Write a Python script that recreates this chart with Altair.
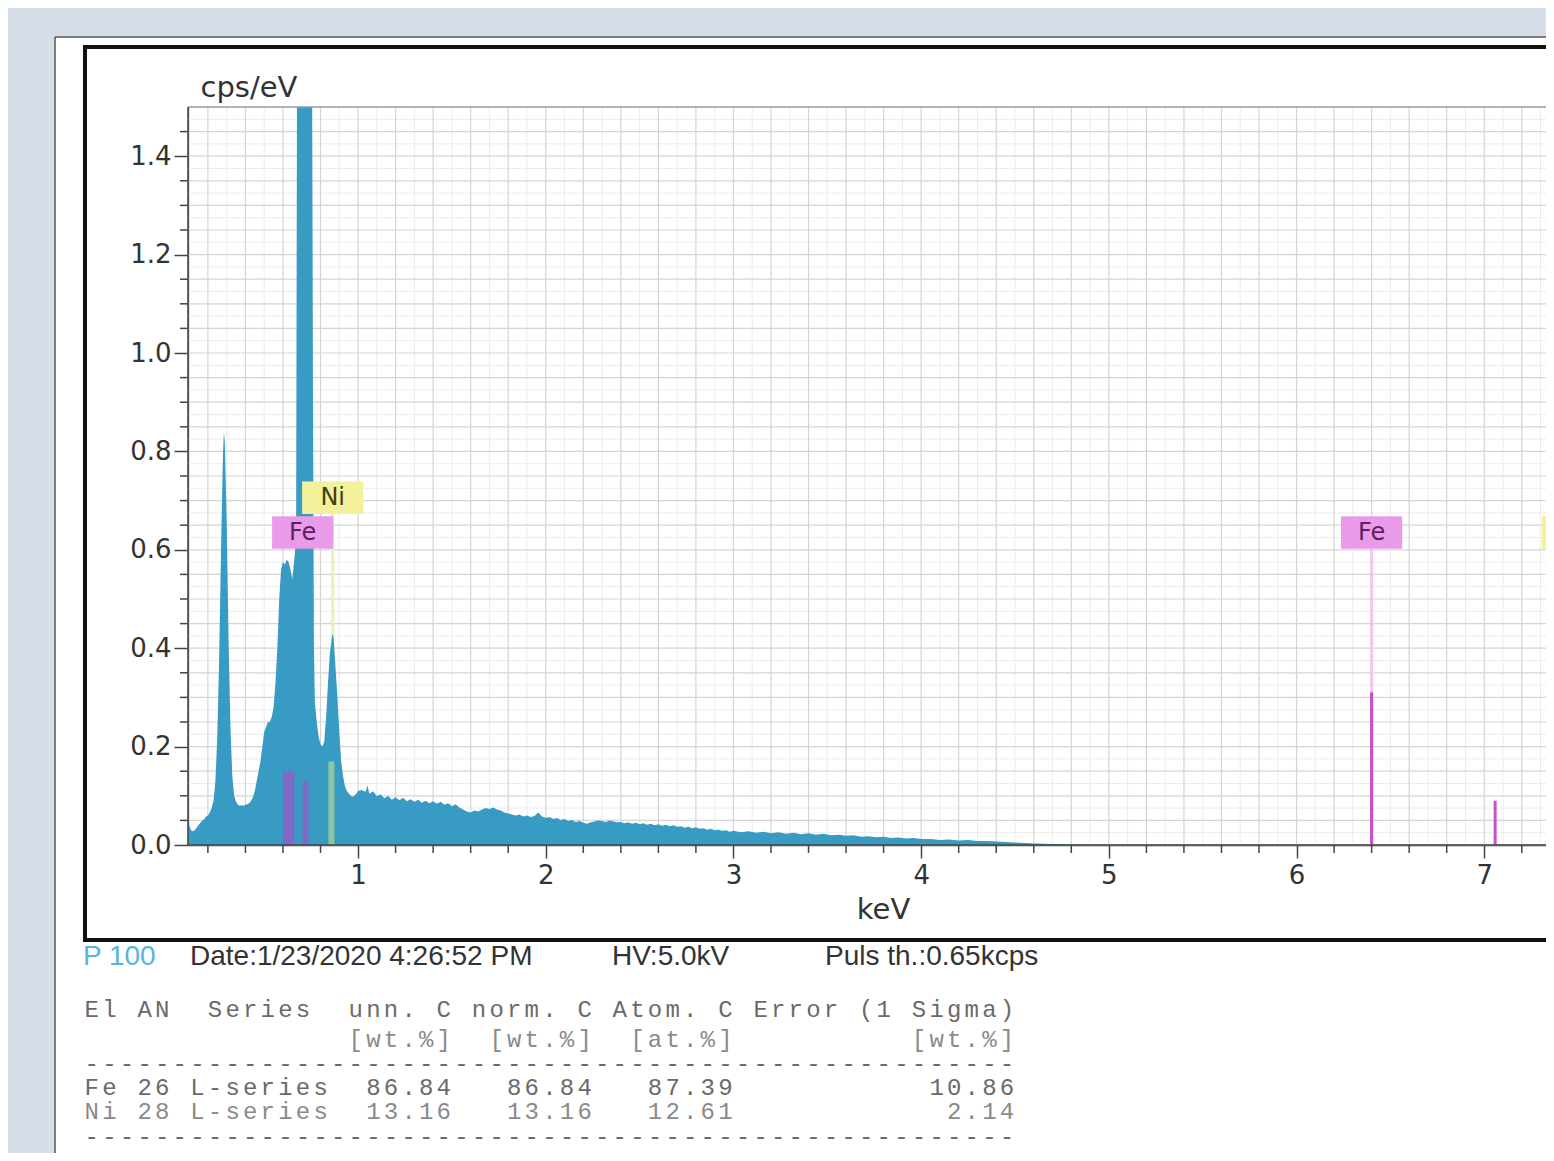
import altair as alt
import pandas as pd

# ---------------- data ----------------
spectrum_points = [
    (0.094, 0.045), (0.10, 0.040), (0.11, 0.030), (0.12, 0.028), (0.13, 0.030),
    (0.14, 0.035), (0.15, 0.040), (0.16, 0.045), (0.17, 0.050), (0.18, 0.052),
    (0.19, 0.058), (0.20, 0.060), (0.21, 0.066), (0.22, 0.075), (0.23, 0.090),
    (0.24, 0.130), (0.25, 0.220), (0.26, 0.380), (0.27, 0.600), (0.28, 0.790),
    (0.285, 0.838), (0.29, 0.820), (0.30, 0.660), (0.31, 0.420), (0.32, 0.240),
    (0.33, 0.140), (0.34, 0.100), (0.35, 0.088), (0.36, 0.082), (0.37, 0.080),
    (0.38, 0.081), (0.39, 0.080), (0.40, 0.082), (0.41, 0.083), (0.42, 0.085),
    (0.43, 0.090), (0.44, 0.097), (0.45, 0.110), (0.46, 0.130), (0.47, 0.150),
    (0.48, 0.170), (0.49, 0.200), (0.50, 0.230), (0.51, 0.240), (0.52, 0.250),
    (0.53, 0.250), (0.54, 0.260), (0.55, 0.280), (0.56, 0.330), (0.57, 0.400),
    (0.58, 0.500), (0.59, 0.560), (0.60, 0.575), (0.61, 0.570), (0.62, 0.580),
    (0.63, 0.575), (0.64, 0.560), (0.65, 0.540), (0.66, 0.580), (0.67, 0.620),
    (0.675, 1.600), (0.70, 1.600), (0.73, 1.600), (0.755, 1.600), (0.76, 0.900),
    (0.765, 0.400), (0.77, 0.290), (0.78, 0.250), (0.79, 0.220), (0.80, 0.205),
    (0.81, 0.200), (0.82, 0.210), (0.83, 0.260), (0.84, 0.330), (0.85, 0.390),
    (0.86, 0.420), (0.865, 0.430), (0.87, 0.420), (0.88, 0.360), (0.89, 0.300),
    (0.90, 0.230), (0.91, 0.170), (0.92, 0.140), (0.93, 0.120), (0.94, 0.110),
    (0.95, 0.105), (0.96, 0.100), (0.97, 0.098), (0.98, 0.100), (0.99, 0.104),
    (1.00, 0.110), (1.02, 0.112), (1.04, 0.108), (1.05, 0.121), (1.06, 0.104),
    (1.08, 0.109), (1.10, 0.099), (1.12, 0.103), (1.14, 0.095), (1.16, 0.100),
    (1.18, 0.092), (1.20, 0.097), (1.22, 0.091), (1.24, 0.096), (1.26, 0.089),
    (1.28, 0.093), (1.30, 0.088), (1.32, 0.092), (1.34, 0.086), (1.36, 0.090),
    (1.38, 0.085), (1.40, 0.089), (1.42, 0.084), (1.44, 0.088), (1.46, 0.082),
    (1.48, 0.085), (1.50, 0.079), (1.52, 0.083), (1.54, 0.076), (1.56, 0.072),
    (1.58, 0.068), (1.60, 0.066), (1.62, 0.070), (1.64, 0.068), (1.66, 0.072),
    (1.68, 0.075), (1.70, 0.073), (1.72, 0.076), (1.74, 0.072), (1.76, 0.070),
    (1.78, 0.066), (1.80, 0.064), (1.82, 0.062), (1.84, 0.060), (1.86, 0.062),
    (1.88, 0.058), (1.90, 0.060), (1.92, 0.057), (1.94, 0.059), (1.96, 0.066),
    (1.98, 0.058), (2.00, 0.055), (2.02, 0.057), (2.04, 0.053), (2.06, 0.055),
    (2.08, 0.051), (2.10, 0.053), (2.12, 0.049), (2.14, 0.051), (2.16, 0.047),
    (2.18, 0.049), (2.20, 0.045), (2.22, 0.043), (2.24, 0.046), (2.26, 0.048),
    (2.28, 0.050), (2.30, 0.049), (2.32, 0.047), (2.34, 0.050), (2.36, 0.048),
    (2.38, 0.046), (2.40, 0.047), (2.42, 0.044), (2.44, 0.046), (2.46, 0.043),
    (2.48, 0.045), (2.50, 0.042), (2.52, 0.044), (2.54, 0.041), (2.56, 0.043),
    (2.58, 0.040), (2.60, 0.042), (2.62, 0.039), (2.64, 0.041), (2.66, 0.038),
    (2.68, 0.040), (2.70, 0.037), (2.72, 0.038), (2.74, 0.035), (2.76, 0.037),
    (2.78, 0.034), (2.80, 0.036), (2.82, 0.033), (2.84, 0.034), (2.86, 0.031),
    (2.88, 0.033), (2.90, 0.030), (2.92, 0.031), (2.94, 0.029), (2.96, 0.030),
    (2.98, 0.027), (3.00, 0.029), (3.04, 0.026), (3.08, 0.028), (3.12, 0.025),
    (3.16, 0.027), (3.20, 0.024), (3.24, 0.026), (3.28, 0.023), (3.32, 0.025),
    (3.36, 0.022), (3.40, 0.024), (3.44, 0.021), (3.48, 0.023), (3.52, 0.020),
    (3.56, 0.021), (3.60, 0.019), (3.64, 0.020), (3.68, 0.017), (3.72, 0.018),
    (3.76, 0.016), (3.80, 0.017), (3.84, 0.014), (3.88, 0.015), (3.92, 0.013),
    (3.96, 0.014), (4.00, 0.012), (4.05, 0.012), (4.10, 0.010), (4.15, 0.011),
    (4.20, 0.009), (4.25, 0.010), (4.30, 0.008), (4.35, 0.008), (4.40, 0.007),
    (4.45, 0.006), (4.50, 0.005), (4.55, 0.004), (4.60, 0.003), (4.70, 0.002),
    (4.80, 0.001), (4.90, 0.000), (7.33, 0.000),
]
spectrum_kev = [p[0] for p in spectrum_points]
spectrum_cps = [p[1] for p in spectrum_points]

x_label_kev = [1, 2, 3, 4, 5, 6, 7]
x_tick_kev = [0.2, 0.4, 0.6, 0.8, 1.0, 1.2, 1.4, 1.6, 1.8, 2.0, 2.2, 2.4, 2.6, 2.8,
              3.0, 3.2, 3.4, 3.6, 3.8, 4.0, 4.2, 4.4, 4.6, 4.8, 5.0, 5.2, 5.4, 5.6,
              5.8, 6.0, 6.2, 6.4, 6.6, 6.8, 7.0, 7.2]
y_label_cps = [0.0, 0.2, 0.4, 0.6, 0.8, 1.0, 1.2, 1.4]
y_tick_cps = [0.0, 0.05, 0.1, 0.15, 0.2, 0.25, 0.3, 0.35, 0.4, 0.45, 0.5, 0.55,
              0.6, 0.65, 0.7, 0.75, 0.8, 0.85, 0.9, 0.95, 1.0, 1.05, 1.1, 1.15,
              1.2, 1.25, 1.3, 1.35, 1.4, 1.45]
x_minor_grid_kev = [0.1, 0.3, 0.5, 0.7, 0.9, 1.1, 1.3, 1.5, 1.7, 1.9, 2.1, 2.3,
                    2.5, 2.7, 2.9, 3.1, 3.3, 3.5, 3.7, 3.9, 4.1, 4.3, 4.5, 4.7,
                    4.9, 5.1, 5.3, 5.5, 5.7, 5.9, 6.1, 6.3, 6.5, 6.7, 6.9, 7.1, 7.3]
y_minor_grid_cps = [0.025, 0.075, 0.125, 0.175, 0.225, 0.275, 0.325, 0.375, 0.425,
                    0.475, 0.525, 0.575, 0.625, 0.675, 0.725, 0.775, 0.825, 0.875,
                    0.925, 0.975, 1.025, 1.075, 1.125, 1.175, 1.225, 1.275, 1.325,
                    1.375, 1.425, 1.475]

# element line markers
line_element = ["Fe", "Fe", "Fe", "Ni", "Fe", "Fe"]
line_kev = [0.615, 0.645, 0.72, 0.858, 6.40, 7.058]
line_cps = [0.15, 0.15, 0.13, 0.17, 0.31, 0.09]

# element labels
label_element = ["Fe", "Ni", "Fe", "Ni"]
label_kev = [0.705, 0.865, 6.40, 7.47]
label_cps = [0.635, 0.706, 0.635, 0.635]

footer_texts = ["P 100", "Date:1/23/2020 4:26:52 PM", "HV:5.0kV", "Puls th.:0.65kcps"]
table_lines = [
    "El AN  Series  unn. C norm. C Atom. C Error (1 Sigma)",
    "               [wt.%]  [wt.%]  [at.%]          [wt.%]",
    "-----------------------------------------------------",
    "Fe 26 L-series  86.84   86.84   87.39           10.86",
    "Ni 28 L-series  13.16   13.16   12.61            2.14",
    "-----------------------------------------------------",
]

# ---------------- layout / style ----------------
W, H = 1358, 738
X_MAX = 7.329
AREA = "#379bc4"
AXIS_COL = "#444444"
box_fill = {"Fe": "#e99be9", "Ni": "#f3f19b"}
box_text = {"Fe": "#5b2162", "Ni": "#3f3f10"}
marker_pale = {"Fe": "#efc6f0", "Ni": "#eef0b4"}
line_col = {"Fe": "#c43cc8", "Ni": "#e8f07a"}
footer_x_px = [-105, 2, 424, 637]
footer_colors = ["#58b3de", "#333333", "#333333", "#333333"]
footer_y_px = 850
table_left_px = -105
char_w = 17.6
table_y_px = [903, 933, 957, 981, 1005, 1030]
table_colors = ["#6a6a6a", "#8a8a8a", "#6a6a6a", "#6a6a6a", "#8a8a8a", "#6a6a6a"]

xs = alt.Scale(domain=[0.094, X_MAX], nice=False, zero=False)
ys = alt.Scale(domain=[0.0, 1.5], nice=False, zero=False)

spec_df = pd.DataFrame({"kev": spectrum_kev, "cps": spectrum_cps})
line_df = pd.DataFrame({"el": line_element, "kev": line_kev, "cps": line_cps})
line_df["col"] = line_df["el"].map(line_col)
lab_df = pd.DataFrame({"el": label_element, "kev": label_kev, "cps": label_cps})
lab_df["box"] = lab_df["el"].map(box_fill)
lab_df["tcol"] = lab_df["el"].map(box_text)
lab_df["pale"] = lab_df["el"].map(marker_pale)
dummy = pd.DataFrame({"d": [0]})

x_axis = alt.Axis(
    orient="bottom", values=x_label_kev, format="d",
    tickSize=13, tickColor=AXIS_COL, tickWidth=1.5,
    domainColor=AXIS_COL, domainWidth=1.5,
    labelFont="DejaVu Sans", labelFontSize=26, labelColor="#333333", labelPadding=4,
    labelOverlap=False, labelFlush=False, grid=False,
    title="keV", titleFont="DejaVu Sans", titleFontSize=29, titleFontWeight="normal",
    titleColor="#333333", titleX=695, titlePadding=7,
)
y_axis = alt.Axis(
    orient="left", values=y_label_cps, format=".1f",
    tickSize=14, tickColor=AXIS_COL, tickWidth=1.5,
    domainColor=AXIS_COL, domainWidth=1.5,
    labelFont="DejaVu Sans", labelFontSize=26, labelColor="#333333", labelPadding=3,
    labelOverlap=False, labelFlush=False, grid=False,
    title="cps/eV", titleFont="DejaVu Sans", titleFontSize=29, titleFontWeight="normal",
    titleColor="#333333", titleAngle=0, titleAlign="left", titleBaseline="bottom",
    titleX=12, titleY=-5,
)

# grid (under the spectrum)
xgrid_minor = alt.Chart(pd.DataFrame({"kev": x_minor_grid_kev})).mark_rule(
    color="#ececec", strokeWidth=1).encode(x=alt.X("kev:Q", scale=xs))
ygrid_minor = alt.Chart(pd.DataFrame({"cps": y_minor_grid_cps})).mark_rule(
    color="#ececec", strokeWidth=1).encode(y=alt.Y("cps:Q", scale=ys))
xgrid = alt.Chart(pd.DataFrame({"kev": x_tick_kev})).mark_rule(
    color="#d4d4d4", strokeWidth=1.2).encode(x=alt.X("kev:Q", scale=xs))
ygrid = alt.Chart(pd.DataFrame({"cps": y_tick_cps})).mark_rule(
    color="#d4d4d4", strokeWidth=1.2).encode(y=alt.Y("cps:Q", scale=ys))

# pale marker lines from labels down to the baseline (behind the spectrum)
marker = alt.Chart(lab_df).transform_calculate(
    ytop="datum.cps - 0.033", y0="0"
).mark_rule(strokeWidth=3).encode(
    x=alt.X("kev:Q", scale=xs),
    y=alt.Y("ytop:Q", scale=ys), y2="y0:Q",
    color=alt.Color("pale:N", scale=None),
)

# spectrum (carries the axes; other layers share its scales)
spectrum = alt.Chart(spec_df).mark_area(clip=True, color=AREA, interpolate="linear").encode(
    x=alt.X("kev:Q", scale=xs, axis=x_axis),
    y=alt.Y("cps:Q", scale=ys, axis=y_axis),
)

# minor ticks
x_minor = [v for v in x_tick_kev if v not in x_label_kev]
y_minor = [v for v in y_tick_cps if v not in y_label_cps]
xticks_minor = alt.Chart(pd.DataFrame({"kev": x_minor})).mark_rule(
    color=AXIS_COL, strokeWidth=1.5).encode(
    x=alt.X("kev:Q", scale=xs), y=alt.value(H), y2=alt.value(H + 8))
yticks_minor = alt.Chart(pd.DataFrame({"cps": y_minor})).mark_rule(
    color=AXIS_COL, strokeWidth=1.5).encode(
    y=alt.Y("cps:Q", scale=ys), x=alt.value(-8), x2=alt.value(0))

# decorations (screenshot frame)
grey_left = alt.Chart(dummy).mark_rect(color="#d6dee8").encode(
    x=alt.value(-200), x2=alt.value(-133), y=alt.value(-120), y2=alt.value(1100))
grey_top = alt.Chart(dummy).mark_rect(color="#d6dee8").encode(
    x=alt.value(-200), x2=alt.value(1400), y=alt.value(-120), y2=alt.value(-70))
edge_left = alt.Chart(dummy).mark_rule(color="#555555", strokeWidth=1.5).encode(
    x=alt.value(-133), y=alt.value(-70), y2=alt.value(1100))
edge_top = alt.Chart(dummy).mark_rule(color="#555555", strokeWidth=1.5).encode(
    x=alt.value(-133), x2=alt.value(1400), y=alt.value(-70))
frame = alt.Chart(dummy).mark_rect(fillOpacity=0, stroke="#111111", strokeWidth=4).encode(
    x=alt.value(-103), x2=alt.value(1420), y=alt.value(-60), y2=alt.value(833))
top_border = alt.Chart(dummy).mark_rule(color="#9a9a9a", strokeWidth=1.5).encode(
    x=alt.value(0), x2=alt.value(W), y=alt.value(0))

lines_l = alt.Chart(line_df).transform_filter("datum.kev < 2").transform_calculate(
    y0="0").mark_rule(strokeWidth=6, opacity=0.5).encode(
    x=alt.X("kev:Q", scale=xs),
    y=alt.Y("cps:Q", scale=ys), y2="y0:Q",
    color=alt.Color("col:N", scale=None),
)
lines_k = alt.Chart(line_df).transform_filter("datum.kev >= 2").transform_calculate(
    y0="0").mark_rule(strokeWidth=3, opacity=0.9).encode(
    x=alt.X("kev:Q", scale=xs),
    y=alt.Y("cps:Q", scale=ys), y2="y0:Q",
    color=alt.Color("col:N", scale=None),
)

boxes = alt.Chart(lab_df).transform_calculate(
    x1="datum.kev - 0.163", x2="datum.kev + 0.163",
    y1="datum.cps - 0.033", y2="datum.cps + 0.033",
).mark_rect().encode(
    x=alt.X("x1:Q", scale=xs), x2="x2:Q",
    y=alt.Y("y1:Q", scale=ys), y2="y2:Q",
    color=alt.Color("box:N", scale=None),
)
box_labels = alt.Chart(lab_df).transform_filter(f"datum.kev < {X_MAX}").mark_text(
    font="DejaVu Sans", fontSize=24, align="center", baseline="middle"
).encode(
    x=alt.X("kev:Q", scale=xs),
    y=alt.Y("cps:Q", scale=ys),
    text="el:N",
    color=alt.Color("tcol:N", scale=None),
)

baseline = alt.Chart(dummy).mark_rule(color=AXIS_COL, strokeWidth=1.5).encode(
    x=alt.value(0), x2=alt.value(W), y=alt.value(H))
leftline = alt.Chart(dummy).mark_rule(color=AXIS_COL, strokeWidth=1.5).encode(
    x=alt.value(0), y=alt.value(0), y2=alt.value(H))

# footer and result table
foot_df = pd.DataFrame({"txt": footer_texts, "px": footer_x_px, "col": footer_colors})
foot_df["py"] = footer_y_px
footer = alt.Chart(foot_df).mark_text(
    font="Liberation Sans", fontSize=28, align="left", baseline="middle"
).encode(
    x=alt.X("px:Q", scale=None),
    y=alt.Y("py:Q", scale=None),
    text="txt:N",
    color=alt.Color("col:N", scale=None),
)

# monospace table: every character on a fixed character grid
cells = []
for i, line in enumerate(table_lines):
    for j, ch in enumerate(line):
        if ch != " ":
            cells.append({"txt": ch, "px": table_left_px + (j + 0.5) * char_w,
                          "py": table_y_px[i], "col": table_colors[i]})
table_df = pd.DataFrame(cells)
table = alt.Chart(table_df).mark_text(
    font="Liberation Mono", fontSize=24, align="center", baseline="middle"
).encode(
    x=alt.X("px:Q", scale=None),
    y=alt.Y("py:Q", scale=None),
    text="txt:N",
    color=alt.Color("col:N", scale=None),
)

chart = alt.layer(
    xgrid_minor, ygrid_minor, xgrid, ygrid, marker, spectrum,
    xticks_minor, yticks_minor,
    grey_left, grey_top, edge_left, edge_top, frame, top_border,
    lines_l, lines_k, boxes, box_labels, baseline, leftline, footer, table,
).properties(
    width=W, height=H,
    autosize=alt.AutoSizeParams(type="none"),
    padding={"left": 180, "top": 99, "right": 0, "bottom": 308},
    background="#ffffff",
).configure_view(stroke=None)

chart.save("out.html", embed_options={"renderer": "svg", "actions": False})
